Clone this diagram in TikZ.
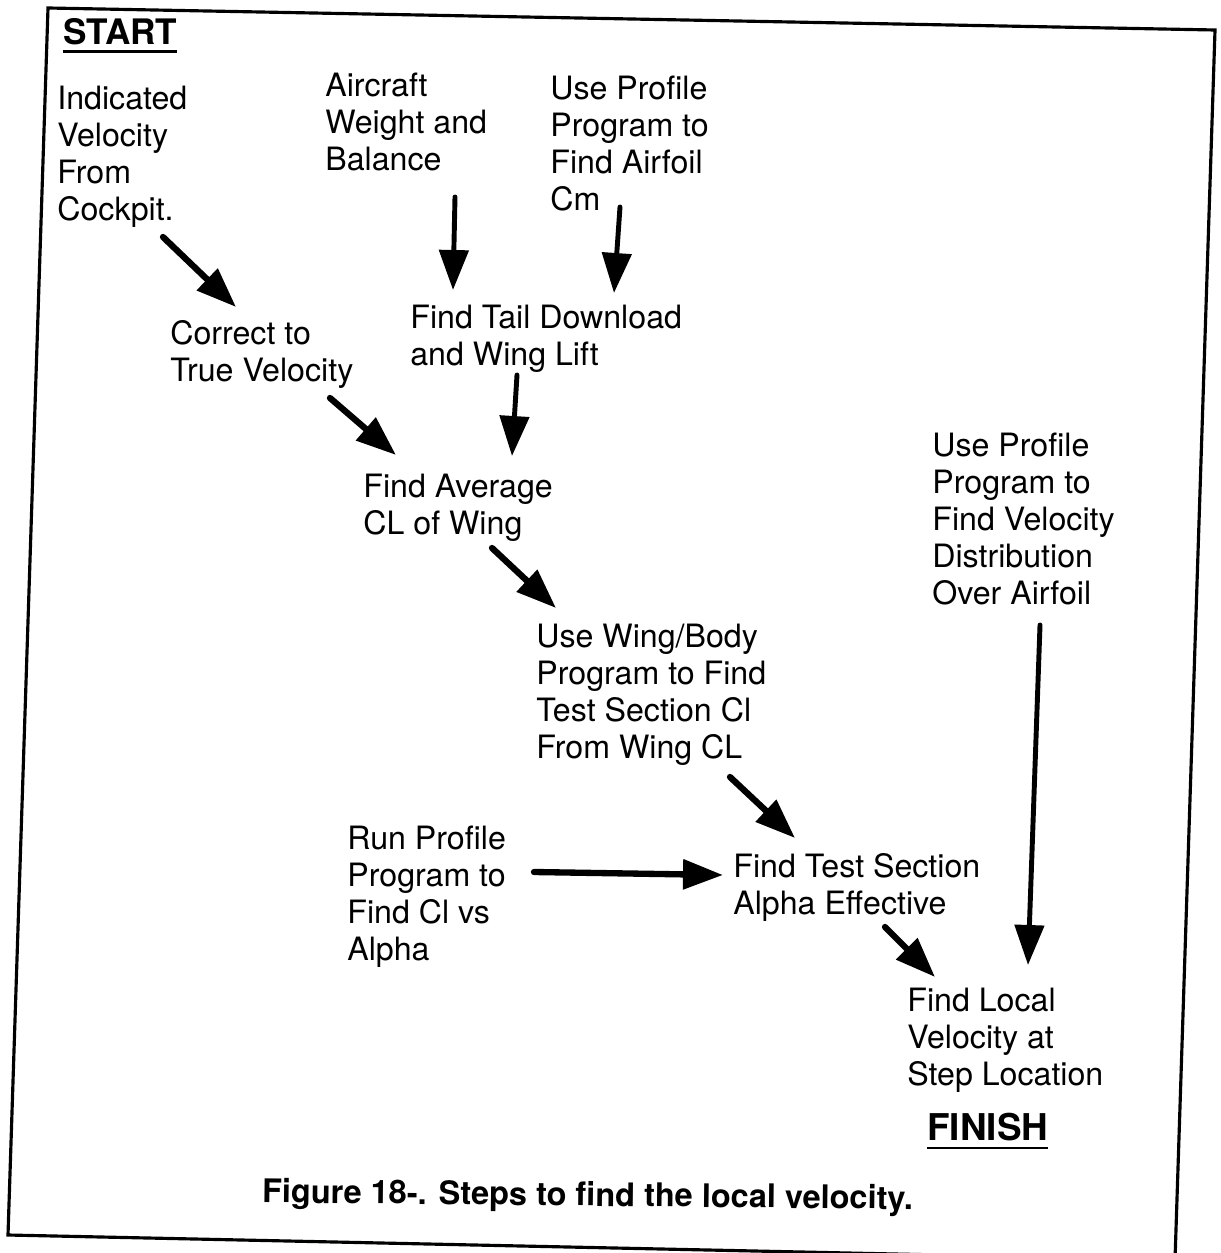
\documentclass[tikz,border=0pt]{standalone}
\usepackage{fontspec}
\setmainfont{TeX Gyre Heros}
\usetikzlibrary{arrows.meta}
\tikzset{>={Triangle[length=0.8cm,width=0.58cm]}}
\newcommand{\hdline}[1]{\setbox0=\hbox{#1}\rlap{\rule[-5pt]{\wd0}{1.6pt}}\box0}

\begin{document}
\begin{tikzpicture}[x=0.02cm, y=-0.02cm]

  \tikzset{txt/.style={anchor=north west, inner sep=0pt, align=left,
                       font=\fontsize{18.3}{21}\selectfont},
           hd/.style={anchor=north west, inner sep=0pt,
                      font=\fontsize{20}{24}\selectfont\bfseries},
           arr/.style={->, line width=3.6pt, line cap=round},
           varr/.style={arr, line width=2.8pt}}

  \useasboundingbox (0,0) rectangle (1220,1253);
  \clip (0,0) rectangle (1220,1253);

  % frame (the scan is a bit skewed)
  \draw[line width=1.8pt] (48,8) -- (1215,30) -- (1175,1260) -- (8,1235) -- cycle;

  % inputs
  \node[hd] (start) at (63,18) {\hdline{START}};
  \node[txt] (ind) at (57,86) {Indicated\\Velocity\\From\\Cockpit.};
  \node[txt] (acw) at (325,73) {Aircraft\\Weight and\\Balance};
  \node[txt] (cmp) at (550,76) {Use Profile\\Program to\\Find Airfoil\\Cm};
  \node[txt] (vel) at (932,433) {Use Profile\\Program to\\Find Velocity\\Distribution\\Over Airfoil};
  \node[txt] (run) at (347,826) {Run Profile\\Program to\\Find Cl vs\\Alpha};

  % steps
  \node[txt] (cor) at (170,320) {Correct to\\True Velocity};
  \node[txt] (tail) at (410,305) {Find Tail Download\\and Wing Lift};
  \node[txt] (avg) at (363,474) {Find Average\\CL of Wing};
  \node[txt] (wb) at (536,624) {Use Wing/Body\\Program to Find\\Test Section Cl\\From Wing CL};
  \node[txt] (tst) at (733,853) {Find Test Section\\Alpha Effective};
  \node[txt] (loc) at (907,988) {Find Local\\Velocity at\\Step Location};
  \node[hd, font=\fontsize{21}{25}\selectfont\bfseries] (fin) at (927,1113) {\hdline{FINISH}};

  \node[hd, font=\fontsize{18.5}{22}\selectfont\bfseries, rotate=-0.6] (cap) at (262,1178)
    {Figure 18-. Steps to find the local velocity.};

  % arrows
  \draw[arr] ([shift={(106,151)}]ind.north west) -- ([shift={(66,-13)}]cor.north west);
  \draw[varr] ([shift={(130,124)}]acw.north west) -- ([shift={(43,-15)}]tail.north west);
  \draw[varr] ([shift={(70,131)}]cmp.north west) -- ([shift={(204,-12)}]tail.north west);
  \draw[varr] ([shift={(107,70)}]tail.north west) -- ([shift={(149,-18)}]avg.north west);
  \draw[arr] ([shift={(160,78)}]cor.north west) -- ([shift={(33,-19)}]avg.north west);
  \draw[arr] ([shift={(129,74)}]avg.north west) -- ([shift={(20,-16)}]wb.north west);
  \draw[arr] ([shift={(194,153)}]wb.north west) -- ([shift={(62,-15)}]tst.north west);
  \draw[arr] ([shift={(187,46)}]run.north west) -- ([shift={(-10,22)}]tst.north west);
  \draw[arr] ([shift={(152,74)}]tst.north west) -- ([shift={(28,-11)}]loc.north west);
  \draw[varr] ([shift={(108,192)}]vel.north west) -- ([shift={(121,-23)}]loc.north west);

\end{tikzpicture}
\end{document}
